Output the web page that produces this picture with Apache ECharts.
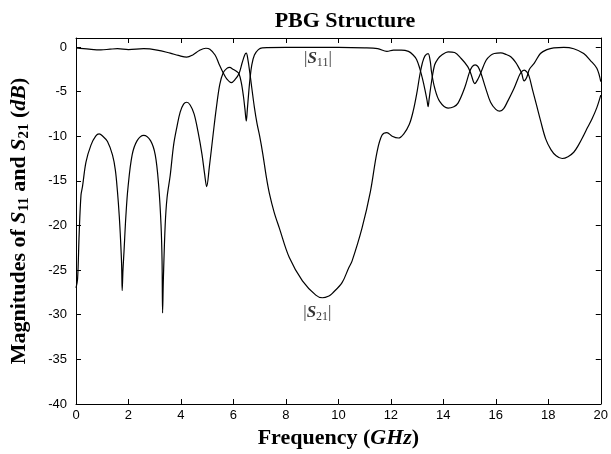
<!DOCTYPE html>
<html>
<head>
<meta charset="utf-8">
<script src="https://cdn.jsdelivr.net/npm/echarts@6/dist/echarts.min.js"></script>
<style>
html,body{margin:0;padding:0;background:#fff;}
#chart{width:611px;height:454px;}
</style>
</head>
<body>
<div id="chart"></div>
<script>
// ---- data (frequency in GHz, magnitude in dB) ----
const freqS11 = [0.00,0.06,0.12,0.19,0.25,0.38,0.57,0.75,0.88,1.02,1.20,1.39,1.50,1.58,1.65,1.70,1.74,1.76,1.79,1.83,1.90,1.98,2.14,2.33,2.58,2.84,3.02,3.15,3.24,3.28,3.30,3.33,3.40,3.47,3.59,3.72,3.85,3.97,4.10,4.22,4.35,4.50,4.65,4.80,4.90,4.98,5.08,5.23,5.35,5.48,5.61,5.75,5.86,5.98,6.10,6.21,6.30,6.38,6.44,6.49,6.53,6.58,6.63,6.70,6.80,6.95,7.10,8.00,9.00,10.00,11.00,11.50,11.85,12.10,12.40,12.67,12.85,12.98,13.10,13.20,13.30,13.38,13.42,13.46,13.55,13.67,13.80,13.93,14.18,14.43,14.68,14.93,15.05,15.20,15.32,15.44,15.63,15.80,15.94,16.19,16.40,16.57,16.75,16.89,16.98,17.08,17.18,17.28,17.46,17.70,17.95,18.21,18.59,18.97,19.35,19.60,19.85,20.00];
const magS11  = [-27.0,-26.0,-21.0,-16.6,-15.6,-12.9,-11.0,-10.0,-9.75,-10.0,-10.6,-12.1,-13.8,-16.2,-19.0,-21.7,-24.5,-27.3,-25.0,-22.9,-19.0,-15.8,-12.1,-10.5,-9.9,-10.5,-12.1,-15.5,-19.9,-24.0,-29.8,-26.0,-19.9,-16.9,-14.4,-11.0,-8.9,-7.3,-6.4,-6.2,-6.5,-7.5,-9.5,-12.0,-14.2,-15.65,-13.5,-9.7,-6.8,-4.2,-2.9,-2.4,-2.3,-2.5,-2.7,-3.0,-4.0,-5.5,-7.0,-8.3,-7.0,-5.2,-3.6,-2.0,-0.9,-0.3,-0.1,-0.05,-0.05,-0.05,-0.1,-0.2,-0.5,-0.35,-0.35,-0.5,-0.9,-1.4,-2.4,-3.5,-4.8,-6.0,-6.7,-5.8,-3.9,-2.0,-1.3,-0.93,-0.55,-0.63,-1.3,-2.2,-3.0,-4.1,-3.6,-2.8,-1.5,-0.95,-0.74,-0.67,-0.85,-1.1,-1.7,-2.4,-2.9,-3.8,-3.4,-2.5,-1.85,-0.74,-0.3,-0.1,-0.05,-0.2,-0.74,-1.5,-2.4,-3.9];

const freqS21 = [0.00,0.50,0.95,1.30,1.58,2.00,2.58,3.09,3.59,3.90,4.22,4.45,4.70,4.95,5.10,5.30,5.45,5.61,5.75,5.92,6.05,6.21,6.33,6.43,6.49,6.55,6.62,6.70,6.80,6.90,7.00,7.12,7.25,7.37,7.55,7.75,8.13,8.63,9.14,9.39,9.64,9.77,10.14,10.40,10.52,10.90,11.22,11.47,11.66,11.85,12.05,12.29,12.50,12.70,12.85,13.00,13.10,13.20,13.30,13.42,13.50,13.55,13.67,13.86,14.18,14.40,14.56,14.81,15.00,15.10,15.21,15.32,15.44,15.60,15.80,16.00,16.15,16.30,16.45,16.70,16.85,16.95,17.08,17.18,17.27,17.40,17.55,17.70,17.90,18.10,18.30,18.53,18.75,18.97,19.15,19.35,19.50,19.66,19.85,20.00];
const magS21  = [-0.1,-0.25,-0.33,-0.25,-0.2,-0.3,-0.2,-0.35,-0.7,-0.95,-1.15,-0.9,-0.4,-0.15,-0.25,-0.9,-1.9,-2.9,-3.6,-4.0,-3.7,-3.0,-1.8,-0.9,-0.7,-1.4,-2.8,-4.6,-6.8,-8.6,-10.0,-12.0,-14.5,-16.4,-18.5,-20.3,-23.6,-26.2,-27.8,-28.1,-27.9,-27.6,-26.4,-24.7,-24.0,-20.3,-16.2,-11.8,-9.9,-9.6,-10.0,-10.2,-9.7,-8.7,-7.2,-5.0,-3.2,-1.8,-1.0,-0.74,-1.6,-2.8,-4.6,-6.1,-6.85,-6.7,-6.3,-4.6,-2.8,-2.2,-2.0,-2.2,-3.0,-4.5,-6.2,-7.0,-7.2,-6.9,-6.1,-4.6,-3.5,-2.9,-2.6,-2.8,-3.3,-4.8,-6.5,-8.2,-10.3,-11.5,-12.2,-12.5,-12.3,-11.8,-11.0,-9.9,-9.0,-8.1,-6.8,-5.4];

const xTickValues = [0,2,4,6,8,10,12,14,16,18,20];
const yTickValues = [0,-5,-10,-15,-20,-25,-30,-35,-40];

const titleText = 'PBG Structure';
const labelS11 = {f: 9.22, m: -1.3, sub: '11'};
const labelS21 = {f: 9.2, m: -29.8, sub: '21'};

// ---- chart ----
const zip = (xs, ys) => xs.map((x, i) => [x, ys[i]]);
const serif = 'Liberation Serif';
const sans = 'Liberation Sans';
const axisLine = {show: true, onZero: false, lineStyle: {color: '#000', width: 1}};
const tick = {show: true, inside: true, length: 5, lineStyle: {color: '#000', width: 1}};

const chart = echarts.init(document.getElementById('chart'), null, {renderer: 'canvas'});
const nameRich = {
  b: {fontFamily: serif, fontWeight: 'bold', fontSize: 22, color: '#000'},
  i: {fontFamily: serif, fontWeight: 'bold', fontStyle: 'italic', fontSize: 22, color: '#000'},
  s: {fontFamily: serif, fontWeight: 'bold', fontSize: 15, color: '#000', padding: [11, 0, 0, 0]}
};
const annRich = {
  p: {fontFamily: serif, fontSize: 17, color: '#000'},
  i: {fontFamily: serif, fontWeight: 'bold', fontStyle: 'italic', fontSize: 17, color: '#000'},
  s: {fontFamily: serif, fontSize: 12, color: '#000', padding: [8, 0, 0, 0]}
};

chart.setOption({
  animation: false,
  backgroundColor: '#fff',
  title: {
    text: titleText, left: 340, top: 5, textAlign: 'center',
    textStyle: {fontFamily: serif, fontWeight: 'bold', fontSize: 22, color: '#000'}
  },
  grid: {left: 75, right: 7, top: 38, bottom: 46, containLabel: false},
  xAxis: [{
    type: 'value', position: 'bottom', min: 0, max: 20, interval: 2,
    axisLine, axisTick: tick, splitLine: {show: false},
    axisLabel: {color: '#000', fontFamily: sans, fontSize: 13, margin: 5,
      customValues: xTickValues},
    name: '{b|Frequency (}{i|GHz}{b|)}', nameLocation: 'middle', nameGap: 23,
    nameTextStyle: {rich: nameRich}
  }, {
    type: 'value', position: 'top', min: 0, max: 20, interval: 2,
    axisLine, axisTick: tick, axisLabel: {show: false}, splitLine: {show: false}
  }],
  yAxis: [{
    type: 'value', position: 'left', min: -40, max: 1, interval: 5,
    axisLine, axisTick: tick, splitLine: {show: false},
    axisLabel: {color: '#000', fontFamily: sans, fontSize: 13, margin: 9,
      formatter: v => (v > 0 ? '' : String(v))},
    name: '{b|Magnitudes of }{i|S}{s|11}{b| and }{i|S}{s|21}{b| (}{i|dB}{b|)}',
    nameLocation: 'middle', nameGap: 44, nameRotate: 90,
    nameTextStyle: {rich: nameRich}
  }, {
    type: 'value', position: 'right', min: -40, max: 1, interval: 5,
    axisLine, axisTick: tick, axisLabel: {show: false}, splitLine: {show: false}
  }],
  series: [{
    name: 'S11', type: 'line', data: zip(freqS11, magS11),
    symbol: 'none', smooth: 0.35, lineStyle: {color: '#000', width: 1.2}, z: 3
  }, {
    name: 'S21', type: 'line', data: zip(freqS21, magS21),
    symbol: 'none', smooth: 0.35, lineStyle: {color: '#000', width: 1.2}, z: 3
  }, {
    type: 'scatter', symbolSize: 0, silent: true,
    data: [[labelS11.f, labelS11.m, labelS11.sub], [labelS21.f, labelS21.m, labelS21.sub]],
    label: {
      show: true, position: 'inside',
      formatter: p => '{p||}{i|S}{s|' + p.data[2] + '}{p||}',
      rich: annRich
    }
  }]
});
</script>
</body>
</html>
